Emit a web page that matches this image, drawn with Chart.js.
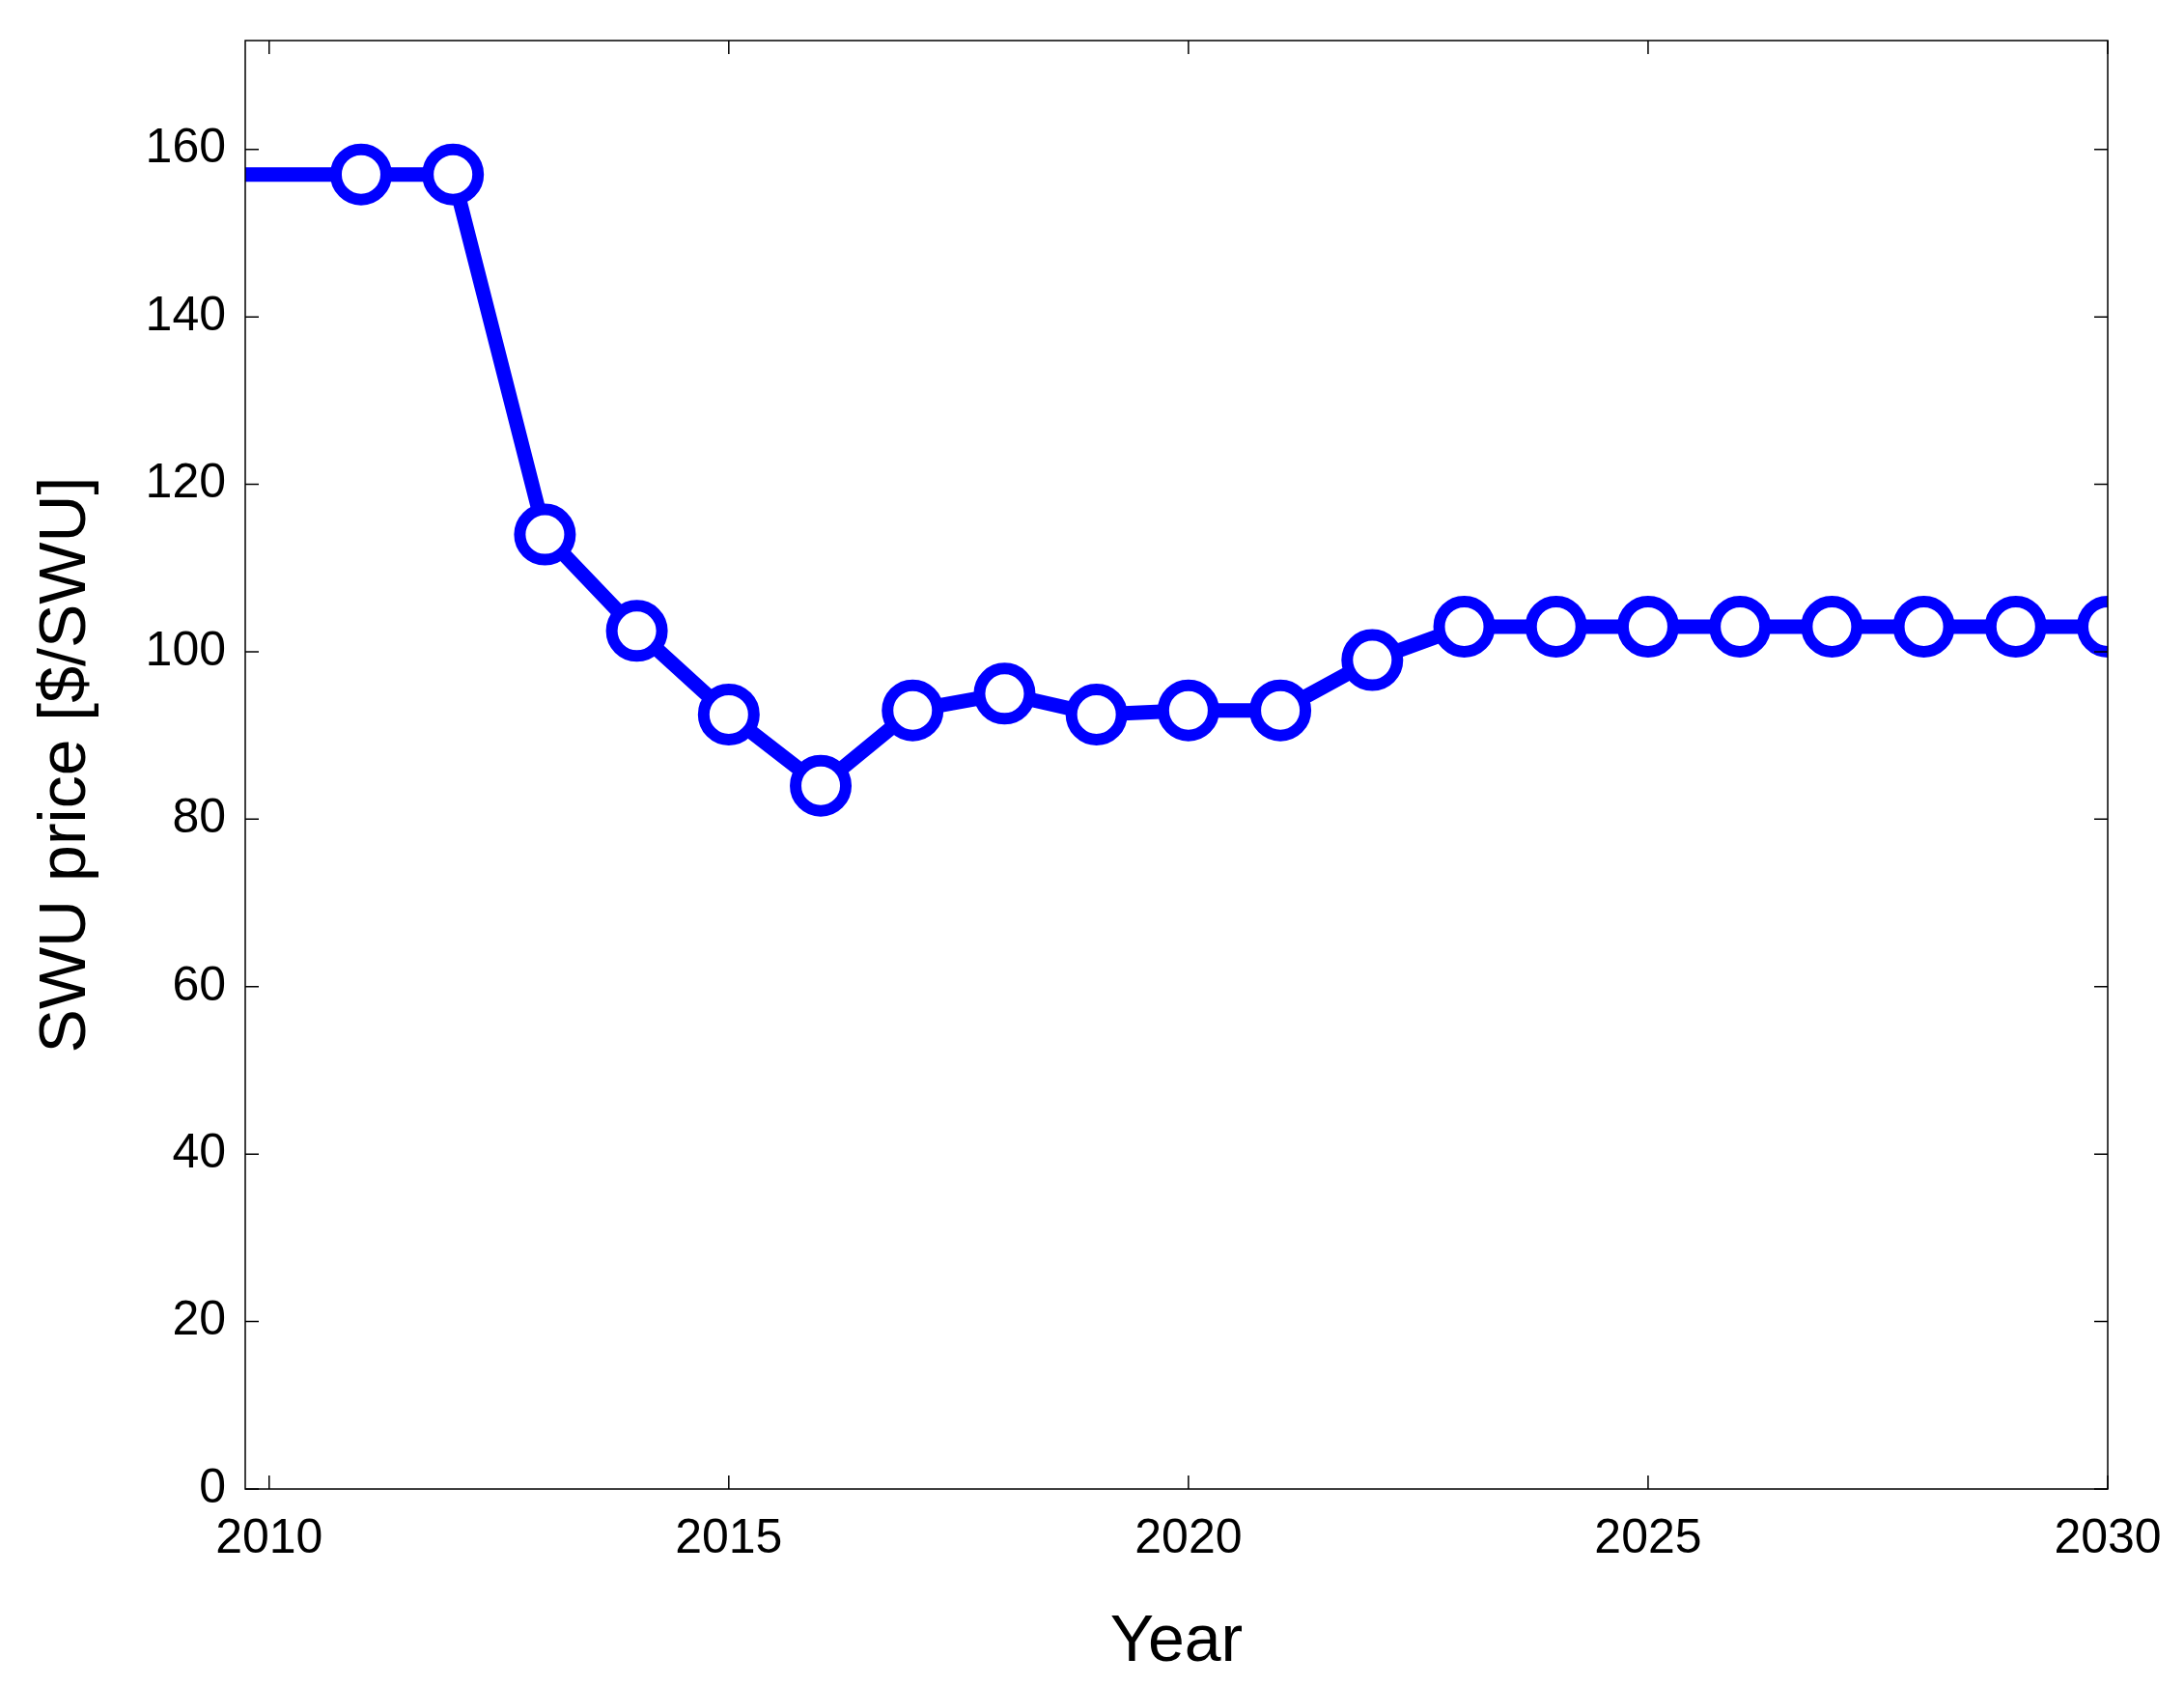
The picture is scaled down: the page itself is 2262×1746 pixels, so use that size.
<!DOCTYPE html>
<html><head><meta charset="utf-8">
<script src="https://cdn.jsdelivr.net/npm/chart.js@4"></script>
<style>html,body{margin:0;padding:0;background:#fff}#c{display:block}</style>
</head><body>
<canvas id="c" width="2262" height="1746"></canvas>
<script>
const years = [2009,2010,2011,2012,2013,2014,2015,2016,2017,2018,2019,2020,2021,2022,2023,2024,2025,2026,2027,2028,2029,2030];
const prices = [157,157,157,157,114,102.5,92.5,84,93,95,92.5,93,93,99,103,103,103,103,103,103,103,103];
const xTicks = [2010,2015,2020,2025,2030];
const yTicks = [0,20,40,60,80,100,120,140,160];

const boxPlugin = {
  id:'box',
  afterDraw(chart){
    const {ctx, chartArea:a, scales:{x,y}} = chart;
    ctx.save();
    ctx.strokeStyle='#000'; ctx.lineWidth=1.5;
    ctx.strokeRect(a.left,a.top,a.right-a.left,a.bottom-a.top);
    const L=14;
    ctx.beginPath();
    xTicks.forEach(v=>{const p=x.getPixelForValue(v);ctx.moveTo(p,a.bottom);ctx.lineTo(p,a.bottom-L);ctx.moveTo(p,a.top);ctx.lineTo(p,a.top+L);});
    yTicks.forEach(v=>{const p=y.getPixelForValue(v);ctx.moveTo(a.left,p);ctx.lineTo(a.left+L,p);ctx.moveTo(a.right,p);ctx.lineTo(a.right-L,p);});
    ctx.stroke();
    ctx.restore();
  }
};

new Chart(document.getElementById('c'),{
  type:'line',
  data:{datasets:[{
    data: years.map((yr,i)=>({x:yr,y:prices[i]})),
    borderColor:'#0000ff', borderWidth:15,
    pointRadius: years.map(yr=>yr<2011?0:26),
    pointBorderWidth:12, pointBorderColor:'#0000ff', pointBackgroundColor:'#ffffff',
    tension:0, clip:0
  }]},
  options:{
    responsive:false, animation:false,
    layout:{padding:{top:20,right:79,left:0,bottom:0}},
    plugins:{legend:{display:false},tooltip:{enabled:false}},
    scales:{
      x:{type:'linear',min:2009.74,max:2030,
        afterBuildTicks:s=>{s.ticks=xTicks.map(v=>({value:v}));},
        afterFit:s=>{s.height=204;},
        grid:{display:false}, border:{display:false},
        ticks:{color:'#000',font:{family:'Liberation Sans',size:50},padding:14,maxRotation:0,callback:v=>String(v)},
        title:{display:true,text:'Year',color:'#000',font:{family:'Liberation Sans',size:68},padding:{top:0}}
      },
      y:{min:0,max:173,
        afterBuildTicks:s=>{s.ticks=yTicks.map(v=>({value:v}));},
        afterFit:s=>{s.width=254;},
        grid:{display:false}, border:{display:false},
        ticks:{color:'#000',font:{family:'Liberation Sans',size:50},padding:12},
        title:{display:true,text:'SWU price [$/SWU]',color:'#000',font:{family:'Liberation Sans',size:68},padding:{top:28,bottom:10}}
      }
    }
  },
  plugins:[boxPlugin]
});
</script>
</body></html>
